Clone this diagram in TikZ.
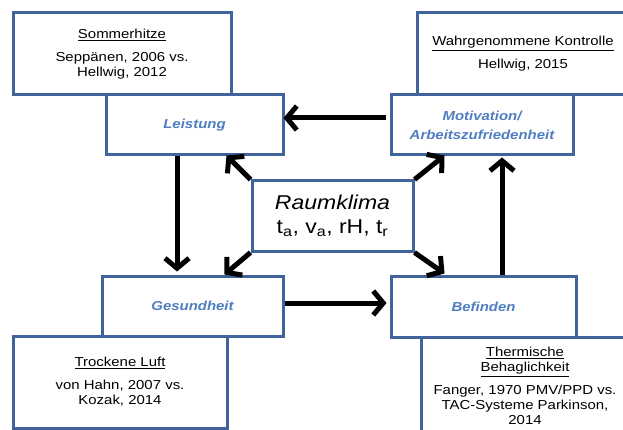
\documentclass[tikz,border=0pt]{standalone}
\usepackage{fontspec}
\setmainfont[FakeStretch=1.15]{Liberation Sans}
\usetikzlibrary{arrows.meta}
\definecolor{bordc}{HTML}{41639B}
\definecolor{labc}{HTML}{4F7EC0}
\begin{document}
\begin{tikzpicture}[x=1pt,y=-1pt,
  box/.style={draw=bordc, line width=3pt, fill=white, inner sep=0pt, align=center},
  info/.style={box, font=\fontsize{13}{15}\selectfont},
  mainbox/.style={box, text=labc, font=\fontsize{13}{19}\selectfont\bfseries\itshape},
  arr/.style={line width=5pt, -{Straight Barb[length=10pt,width=24pt]}}]
\useasboundingbox (0,0) rectangle (623,430);
% info boxes
\node[info, minimum width=218pt, minimum height=82pt] (somm) at (122,54)
  {\underline{Sommerhitze}\\[8pt]Seppänen, 2006 vs.\\Hellwig, 2012};
\node[info, minimum width=212pt, minimum height=82pt] (kontr) at (523,54)
  {\underline{Wahrgenommene Kontrolle}\\[8pt]Hellwig, 2015};
\node[info, minimum width=214pt, minimum height=92pt] (luft) at (120,382)
  {\underline{Trockene Luft}\\[8pt]von Hahn, 2007 vs.\\Kozak, 2014};
\node[info, minimum width=208pt, minimum height=98pt] (therm) at (525,386)
  {\underline{Thermische}\\\underline{Behaglichkeit}\\[8pt]Fanger, 1970 PMV/PPD vs.\\TAC-Systeme Parkinson,\\2014};
% main boxes
\node[mainbox, minimum width=177pt, minimum height=60pt] (leist) at (194.5,125) {Leistung};
\node[mainbox, minimum width=182pt, minimum height=60pt] (mot) at (482,125) {Motivation/\\Arbeitszufriedenheit};
\node[mainbox, minimum width=181pt, minimum height=60pt] (ges) at (192.5,306) {Gesundheit};
\node[mainbox, minimum width=185pt, minimum height=61pt] (bef) at (483.5,306.5) {Befinden};
\node[box, minimum width=161pt, minimum height=70pt, font=\fontsize{20}{23.5}\selectfont] (raum) at (332.5,216)
  {\itshape Raumklima\\t\textsubscript{a}, v\textsubscript{a}, rH, t\textsubscript{r}};
% connectors
\draw[arr] ([xshift=-4pt,yshift=7pt]mot.west) -- ([xshift=-1pt,yshift=7pt]leist.east);
\draw[arr] ([xshift=-17.5pt]leist.south) -- ([xshift=-15.5pt,yshift=3pt]ges.north);
\draw[arr] ([yshift=3pt]ges.east) -- ([xshift=-3pt,yshift=3.5pt]bef.west);
\draw[arr] ([xshift=18.5pt]bef.north) -- ([xshift=20pt,yshift=-1pt]mot.south);
\draw[arr] (raum.north west) -- ++(-24,-24);
\draw[arr] (raum.north east) -- ++(30,-24);
\draw[arr] (raum.south west) -- ++(-26,22);
\draw[arr] (raum.south east) -- ++(30,21);
\end{tikzpicture}
\end{document}
